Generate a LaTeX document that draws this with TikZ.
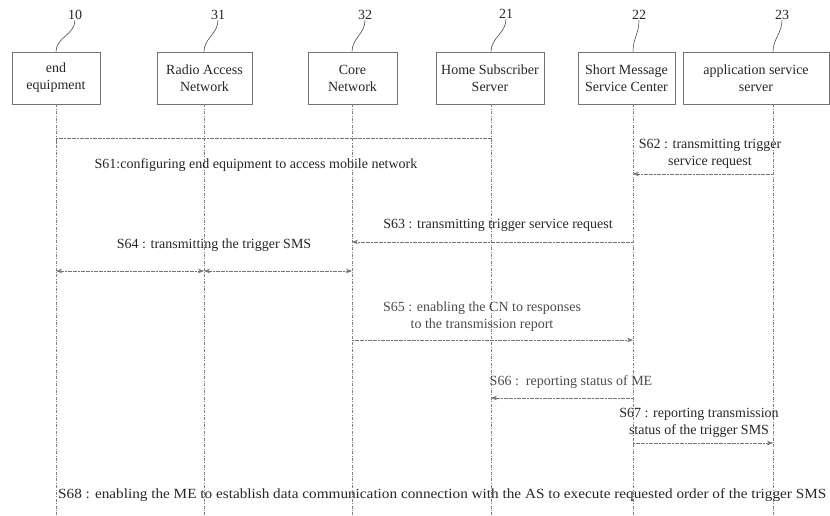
\documentclass[tikz,border=0pt]{standalone}
\usepackage{fontspec}
\usepackage{graphicx}
\setmainfont{Liberation Serif}
\usetikzlibrary{arrows.meta}
\begin{document}
\begin{tikzpicture}[x=1pt,y=-1pt,
  every node/.style={font=\fontsize{14}{17}\selectfont, text=black!85},
  actorbox/.style={draw=black!55, line width=0.6pt, minimum height=52pt,
    align=center, inner sep=0pt},
  lifeline/.style={draw=black!50, line width=0.5pt,
    dash pattern=on 3pt off 1.5pt on 0.8pt off 1.5pt},
  leader/.style={draw=black!70, line width=0.6pt},
  msg/.style={draw=black!55, line width=0.6pt, dash pattern=on 2pt off 0.6pt,
    -{Stealth[length=6pt,width=4.5pt]}},
  twoway/.style={msg, {Stealth[length=6pt,width=4.5pt]}-{Stealth[length=6pt,width=4.5pt]}},
  bracket/.style={draw=black!55, line width=0.6pt, dash pattern=on 2pt off 0.6pt},
  steptext/.style={align=center, inner sep=0pt},
]
\useasboundingbox (0,0) rectangle (830,516);

% participants
\node[actorbox, minimum width=88pt]  (ee)   at (56,78)    {end\\equipment};
\node[actorbox, minimum width=95pt]  (ran)  at (204.5,78) {Radio Access\\Network};
\node[actorbox, minimum width=89pt]  (cn)   at (352.5,78) {Core\\Network};
\node[actorbox, minimum width=108pt] (hss)  at (490,78)   {Home Subscriber\\Server};
\node[actorbox, minimum width=97pt]  (smsc) at (626.5,78) {Short Message\\Service Center};
\node[actorbox, minimum width=146pt] (as)   at (756,78)   {application service\\server};

% lifeline positions
\coordinate (lee)   at (56,0);
\coordinate (lran)  at (204,0);
\coordinate (lcn)   at (352,0);
\coordinate (lhss)  at (491,0);
\coordinate (lsmsc) at (633,0);
\coordinate (las)   at (773,0);
\coordinate (bot)   at (0,516);

\foreach \b/\l in {ee/lee, ran/lran, cn/lcn, hss/lhss, smsc/lsmsc, as/las}
  \draw[lifeline] (\b.south -| \l) -- (\l |- bot);

% reference numerals with leaders
\node (n10) at (75,15)  {10};
\node (n31) at (218,15) {31};
\node (n32) at (365,15) {32};
\node (n21) at (506,14) {21};
\node (n22) at (639,15) {22};
\node (n23) at (782,15) {23};
\foreach \n/\b/\l in {n10/ee/lee, n31/ran/lran, n32/cn/lcn, n21/hss/lhss, n22/smsc/lsmsc, n23/as/las}
  \draw[leader] ([yshift=3pt]\n.south) to[out=-90,in=90] (\b.north -| \l);

% S61
\draw[bracket] (lee |- 0,143) -- (lee |- 0,138) -- (lhss |- 0,138) -- (lhss |- 0,143);
\node[steptext] (t61) at (256,165) {S61:configuring end equipment to access mobile network};

% S62
\node[steptext] (t62) at (710,154) {S62 : transmitting trigger\\service request};
\draw[msg] (las |- 0,174) -- (lsmsc |- 0,174);

% S63
\node[steptext] (t63) at (498,225) {S63 : transmitting trigger service request};
\draw[msg] (lsmsc |- 0,242) -- (lcn |- 0,242);

% S64
\node[steptext] (t64) at (214,245) {S64 : transmitting the trigger SMS};
\draw[twoway] (lee |- 0,271) -- (lran |- 0,271);
\draw[twoway] (lran |- 0,271) -- (lcn |- 0,271);

% S65
\node[steptext, text=black!70] (t65) at (482,317) {S65 : enabling the CN to responses\\to the transmission report};
\draw[msg] (lcn |- 0,340) -- (lsmsc |- 0,340);

% S66
\node[steptext, text=black!70] (t66) at (571,382) {S66 :\ \ reporting status of ME};
\draw[msg] (lsmsc |- 0,398) -- (lhss |- 0,398);

% S67
\node[steptext] (t67) at (699,423) {S67 : reporting transmission\\status of the trigger SMS};
\draw[msg] (lsmsc |- 0,443) -- (las |- 0,443);

% S68
\node[steptext, anchor=west] (t68) at (58,495)
  {\resizebox{768pt}{\height}{S68 : enabling the ME to establish data communication connection with the AS to execute requested order of the trigger SMS}};
\end{tikzpicture}
\end{document}
